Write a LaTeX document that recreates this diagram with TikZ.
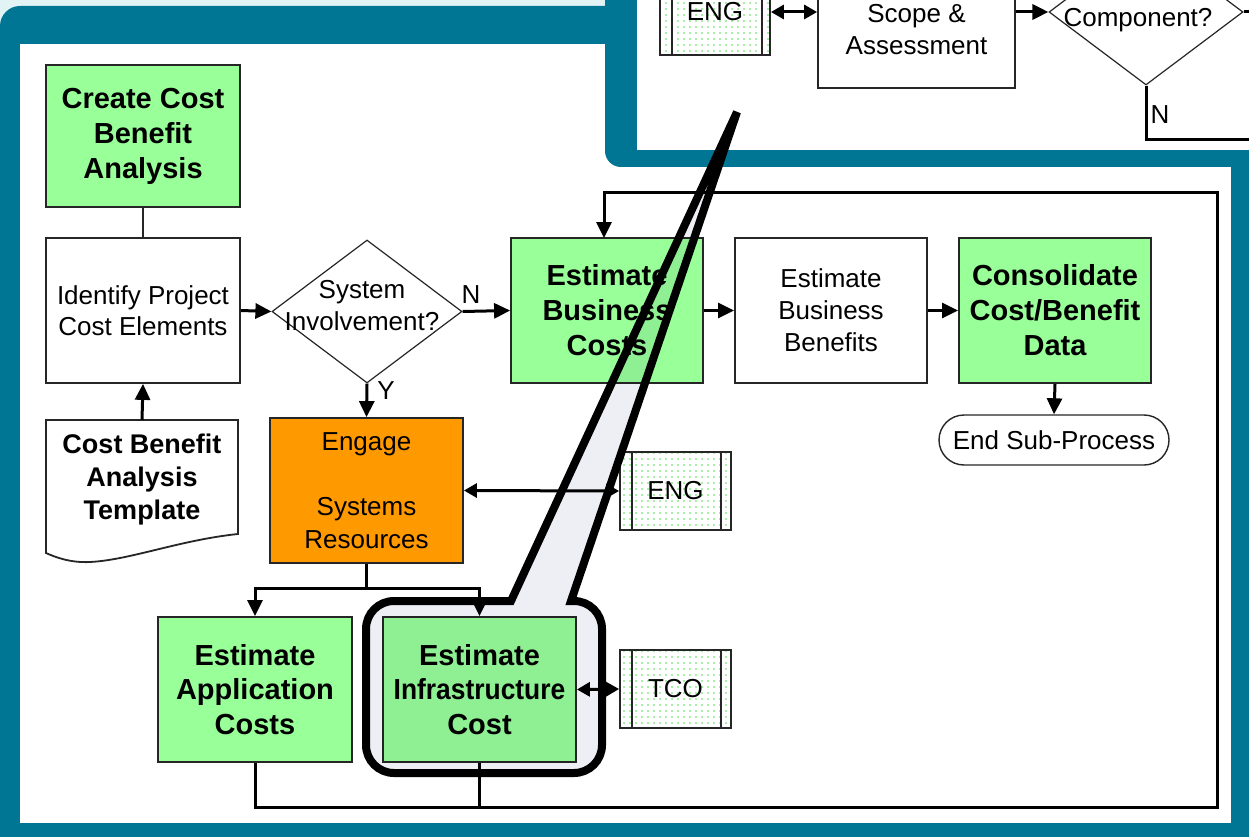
\documentclass[tikz,border=0pt]{standalone}
\usepackage{fontspec}
\setmainfont{Liberation Sans}
\usetikzlibrary{arrows.meta,shapes.geometric,patterns.meta}

\definecolor{frameteal}{HTML}{007594}
\definecolor{pagecyan}{HTML}{E2F3F5}
\definecolor{taskgreen}{HTML}{99FF99}
\definecolor{taskorange}{HTML}{FF9900}
\definecolor{boxedge}{HTML}{262626}
\definecolor{calloutgrey}{HTML}{EEEFF5}
\definecolor{dotgreen}{HTML}{4FE04F}

\newcommand\boldtext{\fontsize{29}{35}\selectfont\bfseries}
\newcommand\plaintext{\fontsize{26}{31}\selectfont}

\begin{document}
\begin{tikzpicture}[x=1pt,y=-1pt,
  box/.style={rectangle, draw=boxedge, line width=1.8pt, inner sep=0pt,
    align=center, minimum width=194pt, minimum height=145pt},
  greenbox/.style={box, fill=taskgreen, font=\boldtext},
  plainbox/.style={box, fill=white, font=\plaintext},
  extbox/.style={rectangle, draw=boxedge, line width=1.8pt, inner sep=0pt,
    minimum width=111pt, minimum height=78pt,
    pattern={Dots[radius=0.9pt,distance=6pt]}, pattern color=dotgreen,
    font=\plaintext},
  decision/.style={diamond, draw=boxedge, line width=1.2pt, inner sep=0pt},
  terminal/.style={rectangle, rounded corners=25pt, draw=boxedge,
    line width=1.4pt, minimum width=230pt, minimum height=50pt,
    inner sep=0pt, font=\plaintext},
  flow/.style={line width=3pt, -{Triangle[length=16pt,width=15pt]}},
  both/.style={line width=3pt,
    {Triangle[length=13pt,width=14pt]}-{Triangle[length=13pt,width=14pt]}},
  link/.style={line width=3pt},
  thinlink/.style={line width=1.8pt, draw=boxedge},
  lbl/.style={font=\plaintext, inner sep=0pt},
  callout/.style={line width=8pt, draw=black}
]
\useasboundingbox (0,0) rectangle (1249,837);
\clip (0,0) rectangle (1249,837);

% page and frames
\fill[pagecyan] (0,0) rectangle (1249,837);
\fill[frameteal, rounded corners=20pt] (0,6) rectangle (1290,880);
\fill[white] (20,44) rectangle (1231,823);

% zoomed inset window
\fill[frameteal, rounded corners=16pt] (605,-40) rectangle (1290,167);
\fill[white] (637,-10) rectangle (1290,150);
\begin{scope}
  \clip (637,-5) rectangle (1249,150);
  \node[extbox, minimum width=110pt, minimum height=86pt] (ieng) at (715,12) {ENG};
  \draw[thinlink] ([xshift=13pt]ieng.north west) -- ([xshift=13pt]ieng.south west);
  \draw[thinlink] ([xshift=-9pt]ieng.north east) -- ([xshift=-9pt]ieng.south east);
  \node[plainbox, minimum width=197pt, minimum height=116pt,
        font=\fontsize{26}{32}\selectfont] (iscope) at (916.5,30) {Scope \&\\Assessment};
  \node[decision, minimum width=194pt, minimum height=146pt] (idec) at (1146,12) {};
  \node[lbl] (idectext) at (1138,20) {Component?};
  \draw[both] (ieng.east) -- (ieng.east -| iscope.west);
  \draw[flow] (iscope.east |- idec.west) -- (idec.west);
  \coordinate (inbend) at (1146,140);
  \coordinate (inexit) at (1270,140);
  \draw[link] (idec.south) -- (inbend) -- (inexit);
  \node[lbl] (inlabel) at (1160,115) {N};
  \coordinate (idecout) at (1275,12);
  \draw[flow] (idec.east) -- (idecout);
\end{scope}

% tasks
\node[greenbox, minimum height=142pt] (create) at (143,136)
  {Create Cost\\Benefit\\Analysis};
\node[plainbox] (identify) at (143,310.5) {Identify Project\\Cost Elements};
\draw[line width=1.8pt, draw=boxedge, fill=white]
  (46,420) -- (238,420) -- (238,534)
  .. controls (180,540) and (130,560) .. (90,562)
  .. controls (70,563) and (55,557) .. (46,553) -- cycle;
\node[align=center, font=\fontsize{27}{33}\selectfont\bfseries,
      minimum width=192pt, minimum height=120pt, inner sep=0pt] (doc) at (142,480)
  {Cost Benefit\\Analysis\\Template};
\node[decision, minimum width=190pt, minimum height=143pt] (sys) at (367,311.5) {};
\node[lbl, align=center, font=\fontsize{26}{32}\selectfont] (systext) at (362,306)
  {System\\Involvement?};
\node[greenbox, minimum width=192pt] (business) at (607,310.5)
  {Estimate\\Business\\Costs};
\node[plainbox, minimum width=192pt, font=\fontsize{26}{32}\selectfont] (benefits) at (831,310.5)
  {Estimate\\Business\\Benefits};
\node[greenbox, minimum width=192pt] (consol) at (1055,310.5)
  {Consolidate\\Cost/Benefit\\Data};
\node[terminal] (endp) at (1054,440) {End Sub-Process};
\node[box, fill=taskorange, minimum width=193pt, font=\fontsize{26}{32.5}\selectfont]
  (engage) at (366.5,490.5) {Engage\\\mbox{}\\Systems\\Resources};
\node[extbox] (eng) at (675.5,491) {ENG};
\node[greenbox, font=\fontsize{29}{34.5}\selectfont\bfseries] (app) at (255,689.5)
  {Estimate\\Application\\Costs};
\node[greenbox, minimum width=193pt, font=\fontsize{29}{34.5}\selectfont\bfseries]
  (infra) at (479.5,689.5) {Estimate\\\scalebox{0.91}[1]{Infrastructure}\\Cost};
\node[extbox] (tco) at (675.5,689) {TCO};
\foreach \ext in {eng,tco}{
  \draw[thinlink] ([xshift=13pt]\ext.north west) -- ([xshift=13pt]\ext.south west);
  \draw[thinlink] ([xshift=-11pt]\ext.north east) -- ([xshift=-11pt]\ext.south east);
}

% connectors
\draw[thinlink] (create) -- (identify);
\draw[flow] (doc.north) -- (identify.south);
\draw[flow] (identify.east) -- (sys.west);
\draw[flow] (sys.east) -- (business.west);
\node[lbl] (nlabel) at (471,295) {N};
\draw[flow] (sys.south) -- (engage.north);
\node[lbl] (ylabel) at (386,391) {Y};
\draw[flow] (business.east) -- (benefits.west);
\draw[flow] (benefits.east) -- (consol.west);
\draw[flow] (consol.south) -- (endp.north);
\draw[both] (engage.east) -- (eng.west);
\draw[both] (infra.east) -- (tco.west);
\coordinate (split) at (366.5,588);
\draw[link] (engage.south) -- (split);
\draw[flow] (split) -| (app.north);
\draw[flow] (split) -| (infra.north);
\coordinate (loopbl) at (255,807);
\coordinate (loopbr) at (1217,807);
\coordinate (looptr) at (1217,192);
\coordinate (looptl) at (604,192);
\coordinate (busin) at (604,238);
\draw[link] (infra.south) -- (infra.south |- loopbl);
\draw[flow] (app.south) -- (loopbl) -- (loopbr) -- (looptr) -- (looptl) -- (busin);

% callout highlighting the infrastructure task
\begin{scope}[blend mode=multiply]
  \fill[calloutgrey] (511,601) -- (737,112) -- (571,601) -- (574,601)
    arc[start angle=90, end angle=0, radius=28pt] -- (602,745)
    arc[start angle=0, end angle=-90, radius=28pt] -- (394,773)
    arc[start angle=-90, end angle=-180, radius=28pt] -- (366,629)
    arc[start angle=180, end angle=90, radius=28pt] -- cycle;
\end{scope}
\draw[callout] (511,601) -- (737,112) -- (571,601) -- (574,601)
  arc[start angle=90, end angle=0, radius=28pt] -- (602,745)
  arc[start angle=0, end angle=-90, radius=28pt] -- (394,773)
  arc[start angle=-90, end angle=-180, radius=28pt] -- (366,629)
  arc[start angle=180, end angle=90, radius=28pt] -- cycle;
\end{tikzpicture}
\end{document}
